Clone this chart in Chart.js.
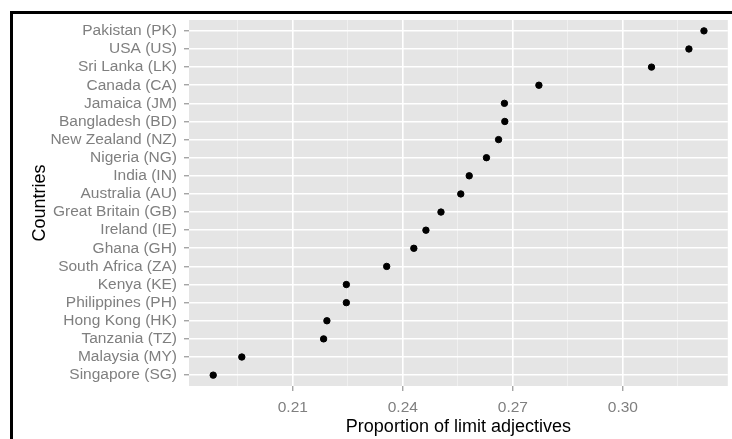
<!DOCTYPE html>
<html>
<head>
<meta charset="utf-8">
<script src="https://cdn.jsdelivr.net/npm/chart.js@4"></script>
<style>
  html, body { margin: 0; padding: 0; background: #fff; }
  #wrap { position: relative; width: 732px; height: 439px; overflow: hidden; }
  #frame {
    position: absolute; left: 10px; top: 11px; width: 800px; height: 500px;
    border-left: 3px solid #000; border-top: 3px solid #000; pointer-events: none;
  }
</style>
</head>
<body>
<div id="wrap">
  <canvas id="chart" width="732" height="439"></canvas>
  <div id="frame"></div>
</div>
<script>
// countries, top to bottom
var countries = [
	"Pakistan (PK)",
	"USA (US)",
	"Sri Lanka (LK)",
	"Canada (CA)",
	"Jamaica (JM)",
	"Bangladesh (BD)",
	"New Zealand (NZ)",
	"Nigeria (NG)",
	"India (IN)",
	"Australia (AU)",
	"Great Britain (GB)",
	"Ireland (IE)",
	"Ghana (GH)",
	"South Africa (ZA)",
	"Kenya (KE)",
	"Philippines (PH)",
	"Hong Kong (HK)",
	"Tanzania (TZ)",
	"Malaysia (MY)",
	"Singapore (SG)"
];

var proportions = [
	0.3221, 0.3180, 0.3078, 0.2771, 0.2677,
	0.2678, 0.2661, 0.2628, 0.2581, 0.2558,
	0.2504, 0.2463, 0.2430, 0.2356, 0.2246,
	0.2246, 0.2193, 0.2184, 0.1961, 0.1883
];

var xMajor = [0.21, 0.24, 0.27, 0.30];
var xMinor = [0.195, 0.225, 0.255, 0.285, 0.315];

function isMajor(v){
	for(var i = 0; i < xMajor.length; i++){
		if(Math.abs(xMajor[i] - v) < 1e-6) return true;
	}
	return false;
}

var points = [];
for(var i = 0; i < proportions.length; i++){
	points.push({x: proportions[i], y: i});
}

var panelBg = {
	id: 'panelBg',
	beforeDraw: function(chart){
		var a = chart.chartArea;
		var ctx = chart.ctx;
		ctx.save();
		ctx.fillStyle = '#E5E5E5';
		ctx.fillRect(a.left, a.top, a.right - a.left, a.bottom - a.top);
		ctx.restore();
	}
};

var tickFont = {family: 'Liberation Sans', size: 15.5};
var titleFont = {family: 'Liberation Sans', size: 18};

new Chart(document.getElementById('chart'), {
	type: 'scatter',
	data: {
		datasets: [{
			data: points,
			backgroundColor: '#000',
			borderColor: '#000',
			pointRadius: 3.2,
			pointHoverRadius: 3.2
		}]
	},
	plugins: [panelBg],
	options: {
		responsive: false,
		animation: false,
		devicePixelRatio: 1,
		layout: {padding: {left: 14, top: 20, right: 3, bottom: 0}},
		plugins: {legend: {display: false}, tooltip: {enabled: false}},
		scales: {
			x: {
				type: 'linear',
				min: 0.1817,
				max: 0.3286,
				afterBuildTicks: function(scale){
					var all = xMajor.concat(xMinor).sort(function(a, b){ return a - b; });
					scale.ticks = all.map(function(v){ return {value: v}; });
				},
				afterFit: function(scale){ scale.height = 53; },
				border: {display: false},
				grid: {
					color: function(c){ return isMajor(c.tick.value) ? '#FFFFFF' : '#F2F2F2'; },
					lineWidth: function(c){ return isMajor(c.tick.value) ? 1.6 : 0.8; },
					tickColor: function(c){ return isMajor(c.tick.value) ? '#7F7F7F' : 'rgba(0,0,0,0)'; },
					tickLength: 5,
					tickWidth: 1
				},
				ticks: {
					autoSkip: false,
					maxRotation: 0,
					padding: 7,
					color: '#7F7F7F',
					font: tickFont,
					callback: function(v){ return isMajor(v) ? v.toFixed(2) : ''; }
				},
				title: {
					display: true,
					text: 'Proportion of limit adjectives',
					color: '#000',
					font: titleFont,
					padding: {top: 0, bottom: 1}
				}
			},
			y: {
				type: 'linear',
				reverse: true,
				min: -0.6,
				max: 19.6,
				afterBuildTicks: function(scale){
					scale.ticks = countries.map(function(c, i){ return {value: i}; });
				},
				afterFit: function(scale){ scale.width = 175; },
				border: {display: false},
				grid: {
					color: '#FFFFFF',
					lineWidth: 1.6,
					tickColor: '#7F7F7F',
					tickLength: 5,
					tickWidth: 1
				},
				ticks: {
					autoSkip: false,
					padding: 7,
					color: '#7F7F7F',
					font: tickFont,
					callback: function(v){ return countries[v]; }
				},
				title: {
					display: true,
					text: 'Countries',
					color: '#000',
					font: titleFont,
					padding: {top: 15, bottom: 0}
				}
			}
		}
	}
});
</script>
</body>
</html>
